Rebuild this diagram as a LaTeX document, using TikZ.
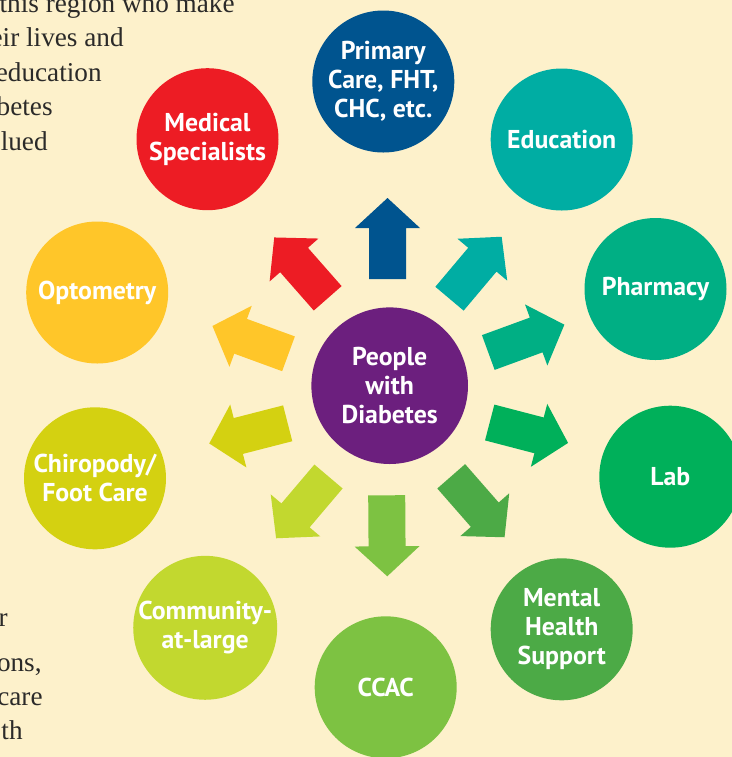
\documentclass[tikz,border=0pt]{standalone}
\usepackage{fontspec}
\newfontfamily\labelfont{PT Sans}
\newfontfamily\prosefont{Liberation Serif}
\usetikzlibrary{positioning}
\definecolor{bgcream}{HTML}{FDF1CB}
\definecolor{inkgray}{HTML}{2B2A29}
\definecolor{hubpurple}{HTML}{6C1F7E}
\definecolor{careblue}{HTML}{00548F}
\definecolor{eduteal}{HTML}{00ADA3}
\definecolor{pharmgreen}{HTML}{00AF84}
\definecolor{labgreen}{HTML}{00B05A}
\definecolor{mentalgreen}{HTML}{4CAA46}
\definecolor{ccacgreen}{HTML}{7DC242}
\definecolor{communitylime}{HTML}{C2D82F}
\definecolor{footolive}{HTML}{D4D111}
\definecolor{optoyellow}{HTML}{FFC629}
\definecolor{medred}{HTML}{ED1C24}
\tikzset{
  spoke/.style={circle, minimum size=71pt, inner sep=0pt, text=white, align=center,
    font=\labelfont\bfseries\fontsize{12.9}{14.6}\selectfont},
  hub/.style={spoke, minimum size=78.3pt},
  prose/.style={anchor=base east, inner sep=0pt, text=inkgray,
    font=\prosefont\fontsize{13.6}{17}\selectfont},
}

\begin{document}
\begin{tikzpicture}[x=0.5pt,y=-0.5pt]
  % page, in pixels of the original
  \useasboundingbox (0,0) rectangle (732,757);
  \fill[bgcream] (0,0) rectangle (732,757);
  \clip (0,0) rectangle (732,757);

  % running text cut by the page edge
  \node[prose] (topa) at (235,12.3) {this region who make};
  \node[prose] (topb) at (124,46.7) {eir lives and};
  \node[prose] (topc) at (102,81) {education};
  \node[prose] (topd) at (53,115) {betes};
  \node[prose] (tope) at (48,150.5) {lued};
  \node[prose] (bota) at (8,626) {r};
  \node[prose] (botb) at (42,671) {ons,};
  \node[prose] (botc) at (43,705.5) {care};
  \node[prose] (botd) at (23,739.5) {th};

  % centre and the ring of services
  \node[hub, fill=hubpurple] (hub) at (389.7,385.7) {People\\with\\Diabetes};
  \node[spoke, fill=careblue] (primary) at (383.3,81.5) {Primary\\Care, FHT,\\CHC, etc.};
  \node[spoke, fill=eduteal] (education) at (561.7,139.5) {Education};
  \node[spoke, fill=pharmgreen] (pharmacy) at (655.5,289) {Pharmacy};
  \node[spoke, fill=labgreen] (lab) at (670.3,476.7) {Lab};
  \node[spoke, fill=mentalgreen] (mental) at (561.7,629.3) {Mental\\Health\\Support};
  \node[spoke, fill=ccacgreen] (ccac) at (385.7,687.3) {CCAC};
  \node[spoke, fill=communitylime] (community) at (205.2,627.8) {Community-\\at-large};
  \node[spoke, fill=footolive] (chiropody) at (95,478.3) {Chiropody/\\Foot Care};
  \node[spoke, fill=optoyellow] (optometry) at (97.2,292.5) {Optometry};
  \node[spoke, fill=medred] (medical) at (207.5,139.2) {Medical\\Specialists};

  % block arrows: base point, direction, colour
  \foreach \bx/\by/\ang/\col in {387.5/279/90/careblue, 449.5/298.7/49.9/eduteal,
      488.3/352.5/20.1/pharmgreen, 489.7/422.5/-14.6/labgreen,
      451.2/476.3/-48.8/mentalgreen, 386.7/495.3/-89.6/ccacgreen,
      328.5/476.5/-130.3/communitylime, 287.7/423.3/-165.6/footolive,
      288.5/353.8/159.9/optoyellow, 327.7/298.3/131.3/medred}
    \fill[\col, shift={(\bx,\by)}, rotate=\ang]
      (0,-18.5) -- (51,-18.5) -- (51,-32.5) -- (81,0) -- (51,32.5) -- (51,18.5) -- (0,18.5) -- cycle;
\end{tikzpicture}
\end{document}
